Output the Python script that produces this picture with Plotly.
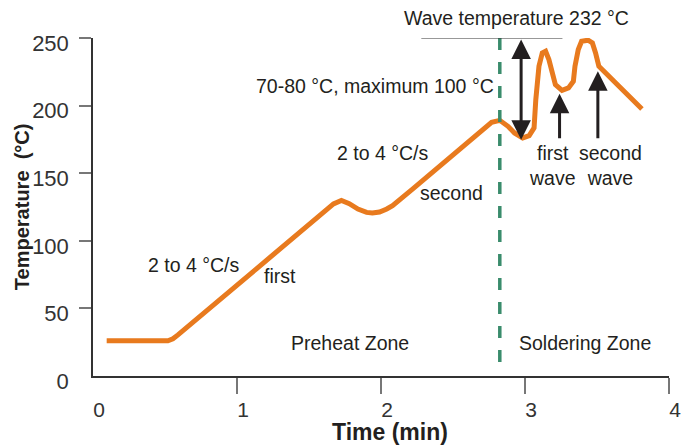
import plotly.graph_objects as go

# ---- data ----
time_min = [0.095, 0.52, 0.555, 0.59, 1.135, 1.475, 1.62, 1.67, 1.725, 1.78, 1.84, 1.90, 1.94,
            1.99, 2.04, 2.08, 2.223, 2.768, 2.825, 2.882, 2.927, 2.984, 3.029, 3.063, 3.075,
            3.097, 3.12, 3.143, 3.166, 3.189, 3.211, 3.257, 3.302, 3.336, 3.347, 3.37, 3.393,
            3.438, 3.468, 3.49, 3.513, 3.812]
temp_c = [26, 26, 27.5, 30.4, 79.3, 109.5, 122.4, 127.3, 129.8, 127.5, 123.5, 121, 120.5,
          121.3, 123.5, 126, 138.6, 187.6, 189.1, 184.7, 179.8, 176.1, 177.8, 183.5, 204.4,
          229.1, 239, 240.2, 234, 223, 215.6, 211.3, 213.1, 218, 229.1, 241.5, 247.6,
          248.4, 246.4, 239, 229.1, 197.5]

x_ticks = [0, 1, 2, 3, 4]
y_ticks = [0, 50, 100, 150, 200, 250]

zone_boundary = 2.825
wave_level = 250

# labels inside the plot: (text, x, y) in data units
labels = [
    ("2 to 4 °C/s", 2.013, 165.2),
    ("second", 2.487, 135.3),
    ("2 to 4 °C/s", 0.699, 82.2),
    ("first", 1.302, 74.1),
    ("Preheat Zone", 1.788, 24.4),
    ("Soldering Zone", 3.415, 24.4),
    ("first<br>wave", 3.191, 155.7),
    ("second<br>wave", 3.592, 155.7),
]
right_label = ("70-80 °C, maximum 100 °C", 2.80, 214.8)
top_label = ("Wave temperature 232 °C", 2.939, 1.059)   # y in paper units (above the plot)

# arrows: (tip_x, tip_y, tail_x, tail_y, double)
arrows = [
    (2.973, 174.8, 2.973, 250, True),
    (3.240, 208.7, 3.240, 174.8, False),
    (3.506, 225.4, 3.506, 174.8, False),
]

x_title = "Time (min)"
y_title = "Temperature  (°C)"

FONT = "Liberation Sans, Arial, sans-serif"
TXT = "#231f20"
ORANGE = "#e87a1e"
GREEN = "#3a8c6c"

fig = go.Figure()
fig.add_trace(go.Scatter(x=time_min, y=temp_c, mode="lines",
                         line=dict(color=ORANGE, width=5), hoverinfo="skip",
                         showlegend=False))

fig.add_shape(type="line", x0=zone_boundary, x1=zone_boundary, y0=wave_level, y1=5,
              xref="x", yref="y", line=dict(color=GREEN, width=3.5, dash="12px,12px"))
fig.add_shape(type="line", x0=2.28, x1=3.26, y0=wave_level, y1=wave_level,
              xref="x", yref="y", line=dict(color="#333333", width=1))

for t, x, y in labels:
    fig.add_annotation(text=t, x=x, y=y, xref="x", yref="y", showarrow=False,
                       font=dict(family=FONT, size=19.5, color=TXT),
                       xanchor="center", yanchor="middle")
t, x, y = right_label
fig.add_annotation(text=t, x=x, y=y, xref="x", yref="y", showarrow=False,
                   font=dict(family=FONT, size=19.5, color=TXT),
                   xanchor="right", yanchor="middle")
t, x, y = top_label
fig.add_annotation(text=t, x=x, y=y, xref="x", yref="paper", showarrow=False,
                   font=dict(family=FONT, size=19.5, color=TXT),
                   xanchor="center", yanchor="middle")

for tx, ty, ax, ay, dbl in arrows:
    kw = dict(x=tx, y=ty, ax=ax, ay=ay, xref="x", yref="y", axref="x", ayref="y",
              text="", showarrow=True, arrowhead=2, arrowsize=1.3, arrowwidth=3,
              arrowcolor=TXT)
    if dbl:
        kw.update(arrowside="end+start", startarrowhead=2, startarrowsize=1.3)
    fig.add_annotation(**kw)

# axis titles
fig.add_annotation(text="<b>" + x_title + "</b>", x=0.515, y=-0.166, xref="paper", yref="paper",
                   showarrow=False, font=dict(family=FONT, size=23, color=TXT),
                   xanchor="center", yanchor="middle")
fig.add_annotation(text="<b>" + y_title + "</b>", x=-0.123, y=0.5, xref="paper", yref="paper",
                   showarrow=False, textangle=-90, font=dict(family=FONT, size=20, color=TXT),
                   xanchor="center", yanchor="middle")

# the page body adds an 8px offset: figure is 8px smaller, margins compensate
fig.update_layout(
    width=683, height=437,
    margin=dict(l=85, r=10, t=30, b=69),
    paper_bgcolor="white", plot_bgcolor="white",
    showlegend=False,
    font=dict(family=FONT, color=TXT),
)
fig.update_xaxes(
    range=[0, 4], tickvals=x_ticks, ticktext=[str(v) for v in x_ticks],
    ticks="", showline=True, linecolor="#333333", linewidth=1.5,
    showgrid=False, zeroline=False,
    minor=dict(tickvals=x_ticks[1:], ticks="outside", ticklen=16, tickcolor="#777777", tickwidth=1.5),
    tickfont=dict(family=FONT, size=21, color="#333333"),
    ticklabelshift=6, ticklabelstandoff=14, ticklabeloverflow="allow",
)
fig.update_yaxes(
    range=[0, 250], tickvals=y_ticks, ticktext=[str(v) for v in y_ticks],
    ticks="", showline=True, linecolor="#333333", linewidth=1.5,
    showgrid=False, zeroline=False,
    minor=dict(tickvals=y_ticks[1:], ticks="outside", ticklen=12, tickcolor="#777777", tickwidth=1.5),
    tickfont=dict(family=FONT, size=22, color="#333333"),
    ticklabelshift=5, ticklabelstandoff=18, ticklabeloverflow="allow",
)

fig.write_html("out.html")
